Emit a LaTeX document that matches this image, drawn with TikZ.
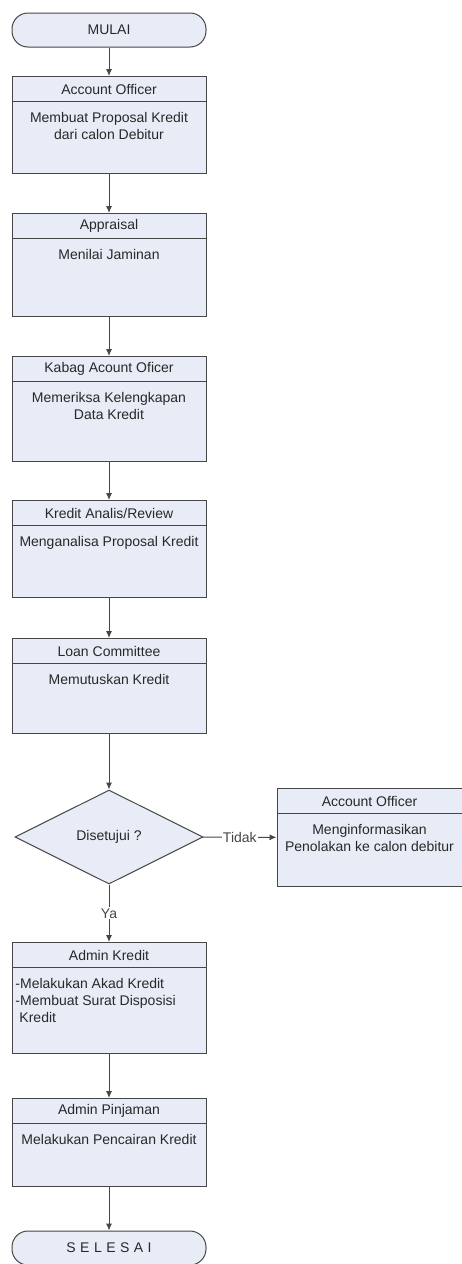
\documentclass[tikz,border=0pt]{standalone}
\usepackage{fontspec}
\setmainfont{Liberation Sans}
\usepackage{tikz}
\usetikzlibrary{shapes.geometric, arrows.meta}
\definecolor{isian}{RGB}{231,236,247}
\definecolor{garis}{RGB}{70,70,70}
\definecolor{tulisan}{RGB}{40,40,40}

\begin{document}
\begin{tikzpicture}[x=1pt, y=-1pt, >={Latex[length=7pt, width=6pt]}, line width=1pt, text=tulisan, font=\fontsize{14}{17}\selectfont]
\tikzstyle{terminal} = [draw=garis, fill=isian, rounded corners=16pt, minimum width=194pt, minimum height=34pt]
\tikzstyle{kotak} = [draw=garis, fill=isian, minimum width=194pt, anchor=north]
\tikzstyle{judul} = [draw=garis, fill=isian, minimum width=194pt, minimum height=25pt, anchor=north]
\tikzstyle{isi} = [align=center, anchor=north, inner sep=0pt]
\tikzstyle{keterangan} = [fill=white, inner sep=1pt]
\useasboundingbox (0,0) rectangle (462,1264);

\node[terminal] (mulai) at (109,30) {MULAI};

\node[kotak, minimum height=97pt] (ao) at (109,76) {};
\node[judul] (aoj) at (ao.north) {Account Officer};
\node[isi] (aoi) at (109,112) {Membuat Proposal Kredit\\dari calon Debitur};

\node[kotak, minimum height=103pt] (ap) at (109,213) {};
\node[judul] (apj) at (ap.north) {Appraisal};
\node[isi] (api) at (109,249) {Menilai Jaminan};

\node[kotak, minimum height=105pt] (kb) at (109,356) {};
\node[judul] (kbj) at (kb.north) {Kabag Acount Oficer};
\node[isi] (kbi) at (109,392) {Memeriksa Kelengkapan\\Data Kredit};

\node[kotak, minimum height=97pt] (ka) at (109,500) {};
\node[judul] (kaj) at (ka.north) {Kredit Analis/Review};
\node[isi] (kai) at (109,536) {Menganalisa Proposal Kredit};

\node[kotak, minimum height=95pt] (lc) at (109,638) {};
\node[judul] (lcj) at (lc.north) {Loan Committee};
\node[isi] (lci) at (109,674) {Memutuskan Kredit};

\node[diamond, draw=garis, fill=isian, minimum width=188pt, minimum height=94pt, inner sep=0pt] (setuju) at (109,837) {Disetujui ?};

\node[kotak, minimum width=185pt, minimum height=98pt] (tolak) at (369.5,788) {};
\node[judul, minimum width=185pt] (tolakj) at (tolak.north) {Account Officer};
\node[isi] (tolaki) at (369.5,824) {Menginformasikan\\Penolakan ke calon debitur};

\node[kotak, minimum height=111pt] (ad) at (109,942) {};
\node[judul] (adj) at (ad.north) {Admin Kredit};
\node[isi, align=left, anchor=north west] (adi) at (15,978) {-Melakukan Akad Kredit\\-Membuat Surat Disposisi\\\hspace{4pt}Kredit};

\node[kotak, minimum height=88pt] (pj) at (109,1098) {};
\node[judul] (pjj) at (pj.north) {Admin Pinjaman};
\node[isi] (pji) at (109,1134) {Melakukan Pencairan Kredit};

\node[terminal] (selesai) at (109,1248) {\addfontfeatures{LetterSpace=32}SELESAI};

\foreach \from/\to in {mulai/ao, ao/ap, ap/kb, kb/ka, ka/lc, lc/setuju, ad/pj, pj/selesai}
\draw [->, garis] (\from) -- (\to);
\draw [->, garis] (setuju) -- node[keterangan] {Ya} (ad);
\draw [->, garis] (setuju) -- node[keterangan] {Tidak} (tolak);
\end{tikzpicture}
\end{document}
